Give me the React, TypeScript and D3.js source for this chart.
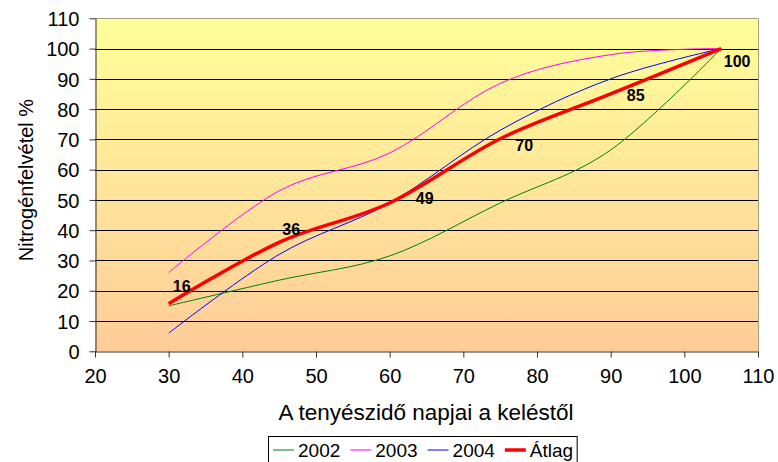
import { useRef, useEffect } from "react";
import * as d3 from "d3";

// Days after emergence (x) and nitrogen uptake % per year
const days = [30, 45, 60, 75, 90, 105];
const values2002 = [15, 23.5, 31.5, 49, 66.5, 100];
const values2003 = [26, 53, 65.5, 88.5, 98, 100];
const values2004 = [6, 32, 49, 73, 90, 100];
const valuesAtlag = [15.7, 36, 49, 70.2, 85, 100];

const seriesNames = ["2002", "2003", "2004", "Átlag"];
const xTicks = [20, 30, 40, 50, 60, 70, 80, 90, 100, 110];
const yTicks = [0, 10, 20, 30, 40, 50, 60, 70, 80, 90, 100, 110];

const FONT = "'Liberation Sans', Arial, sans-serif";

export default function App() {
    const ref = useRef<SVGSVGElement>(null);

    useEffect(() => {
        if (!ref.current) return;
        const width = 778;
        const height = 462;
        const left = 95;
        const right = 758;
        const top = 18.3;
        const bottom = 351.3;

        const x = d3.scaleLinear().domain([20, 110]).range([left, right]);
        const y = d3.scaleLinear().domain([0, 110]).range([bottom, top]);
        const crisp = (v: number) => Math.round(v) + 0.5;

        const svg = d3.select(ref.current);
        svg.selectAll("*").remove();
        svg.attr("width", width).attr("height", height);

        // plot background gradient
        const defs = svg.append("defs");
        const grad = defs
            .append("linearGradient")
            .attr("id", "bg")
            .attr("x1", 0)
            .attr("y1", 0)
            .attr("x2", 0)
            .attr("y2", 1);
        grad.append("stop").attr("offset", "0%").attr("stop-color", "#FFFF99");
        grad.append("stop").attr("offset", "100%").attr("stop-color", "#FFCC99");

        svg.append("rect")
            .attr("x", left)
            .attr("y", top)
            .attr("width", right - left)
            .attr("height", bottom - top)
            .attr("fill", "url(#bg)");

        // horizontal gridlines
        svg.append("g")
            .selectAll("line")
            .data(yTicks.filter((d) => d > 0 && d < 110))
            .join("line")
            .attr("x1", left)
            .attr("x2", right)
            .attr("y1", (d) => crisp(y(d)))
            .attr("y2", (d) => crisp(y(d)))
            .attr("stroke", "#000")
            .attr("stroke-width", 1);

        // plot border (top & right)
        svg.append("path")
            .attr("d", `M${left},${crisp(top)}H${crisp(right)}V${bottom}`)
            .attr("fill", "none")
            .attr("stroke", "#A8A080")
            .attr("stroke-width", 1);

        // axes
        const xAxis = svg
            .append("g")
            .attr("transform", `translate(0,${crisp(bottom)})`)
            .call(d3.axisBottom(x).tickValues(xTicks).tickSize(6).tickPadding(11).tickSizeOuter(0));
        const yAxis = svg
            .append("g")
            .attr("transform", `translate(${crisp(left)},0)`)
            .call(d3.axisLeft(y).tickValues(yTicks).tickSize(6).tickPadding(10).tickSizeOuter(0));
        [xAxis, yAxis].forEach((g) => {
            g.attr("font-family", FONT).attr("font-size", 20);
            g.select(".domain").attr("stroke", "#333");
            g.selectAll(".tick line").attr("stroke", "#333");
            g.selectAll(".tick text").attr("fill", "#000");
        });
        yAxis.selectAll(".tick text").attr("dy", "0.36em");

        // axis titles
        svg.append("text")
            .attr("x", 426)
            .attr("y", 420)
            .attr("text-anchor", "middle")
            .style("font-family", FONT)
            .style("font-size", "22.5px")
            .text("A tenyészidő napjai a keléstől");
        svg.append("text")
            .attr("transform", `translate(33,180) rotate(-90)`)
            .attr("text-anchor", "middle")
            .style("font-family", FONT)
            .style("font-size", "20px")
            .text("Nitrogénfelvétel %");

        // series
        const allSeries = [values2002, values2003, values2004, valuesAtlag];
        const colors = ["#008000", "#FF00FF", "#0000FF", "#FF0000"];
        const widths = [1, 1, 1, 3.5];
        const line = d3
            .line<number>()
            .x((_, i) => x(days[i]))
            .y((d) => y(d))
            .curve(d3.curveCatmullRom.alpha(0));

        allSeries.forEach((s, i) => {
            svg.append("path")
                .datum(s)
                .attr("d", line)
                .attr("fill", "none")
                .attr("stroke", colors[i])
                .attr("stroke-width", widths[i])
                .attr("stroke-linejoin", "round");
        });

        // data labels of the average (hand-placed in the original)
        const labelOffsets = [
            [13, -12],
            [12, -7],
            [35, 1],
            [24, 12],
            [25, 7],
            [16, 18],
        ];
        svg.append("g")
            .selectAll("text")
            .data(valuesAtlag)
            .join("text")
            .attr("x", (d, i) => x(days[i]) + labelOffsets[i][0])
            .attr("y", (d, i) => y(d) + labelOffsets[i][1])
            .attr("text-anchor", "middle")
            .style("font-family", FONT)
            .style("font-size", "16px")
            .style("font-weight", "bold")
            .text((d) => d3.format(".0f")(d));

        // legend
        const legend = svg.append("g");
        const box = legend
            .append("rect")
            .attr("x", 268.5)
            .attr("y", 436.5)
            .attr("height", 40)
            .attr("fill", "#fff")
            .attr("stroke", "#000")
            .attr("stroke-width", 1);
        let cx = 273;
        seriesNames.forEach((name, i) => {
            legend
                .append("line")
                .attr("x1", cx)
                .attr("x2", cx + 21)
                .attr("y1", 450)
                .attr("y2", 450)
                .attr("stroke", colors[i])
                .attr("stroke-width", widths[i]);
            const t = legend
                .append("text")
                .attr("x", cx + 25)
                .attr("y", 457)
                .style("font-family", FONT)
                .style("font-size", "19px")
                .text(name);
            const w = (t.node() as SVGTextElement).getComputedTextLength();
            cx += 25 + w + 10;
        });
        box.attr("width", cx - 10 + 4 - 268.5);
    });

    return (
        <svg
            ref={ref}
            style={{ position: "absolute", left: 0, top: 0, background: "#fff" }}
        ></svg>
    );
}
